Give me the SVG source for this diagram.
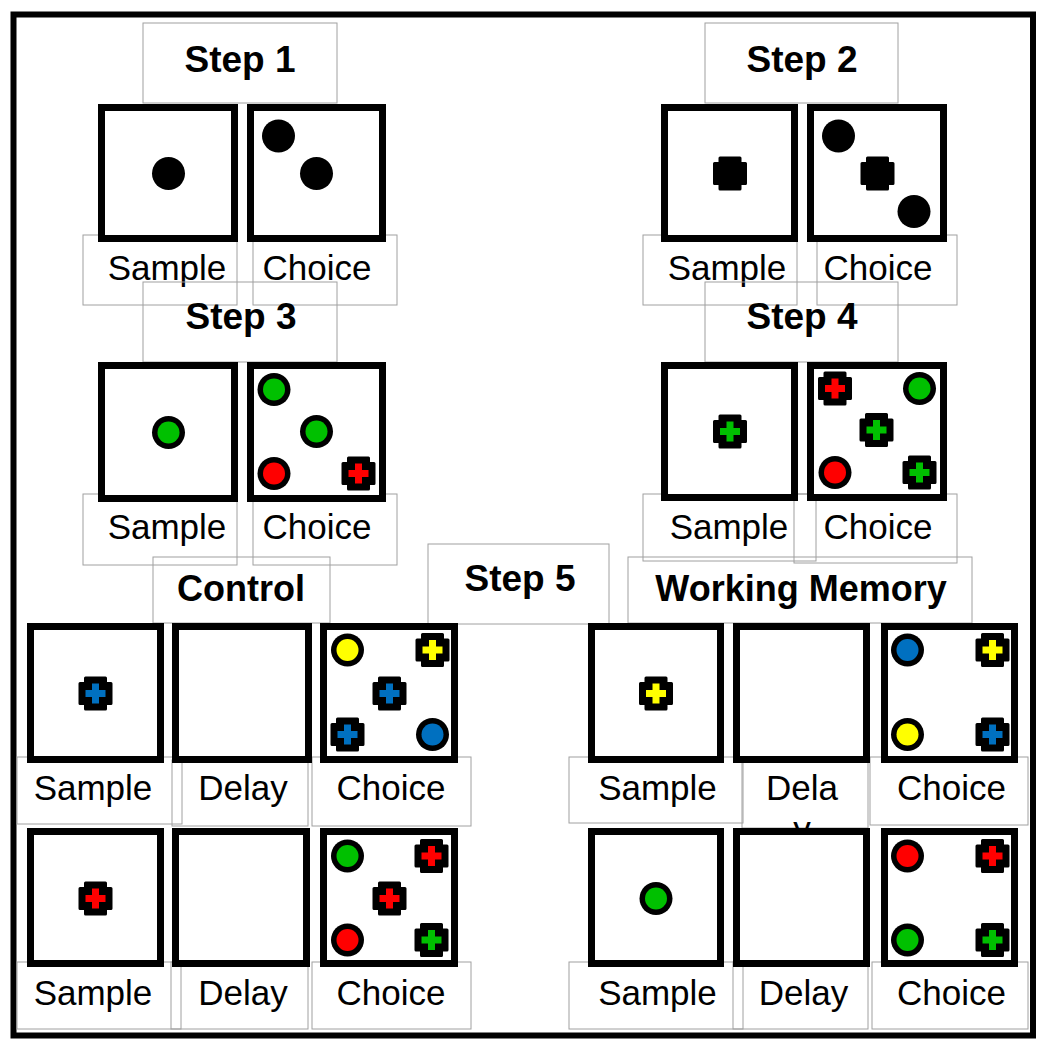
<svg xmlns="http://www.w3.org/2000/svg" width="1044" height="1050" viewBox="0 0 1044 1050">
<style>
.lb{fill:none;stroke:#a0a0a0;stroke-width:1}
.sq{fill:#fff;stroke:#000;stroke-width:7}
.tt{font-family:"Liberation Sans",Arial,sans-serif;font-weight:bold;font-size:37px;text-anchor:middle;fill:#000}
.t5{font-family:"Liberation Sans",Arial,sans-serif;font-weight:bold;font-size:36px;text-anchor:middle;fill:#000}
.tl{font-family:"Liberation Sans",Arial,sans-serif;font-size:35px;text-anchor:middle;fill:#000}
</style>
<defs>
<g id="cs"><circle r="16.5" fill="#000"/><circle r="11" fill="currentColor"/></g>
<g id="xs"><path d="M-10,-15.5H10V-10H15.5V10H10V15.5H-10V10H-15.5V-10H-10Z" fill="#000" stroke="#000" stroke-width="3" stroke-linejoin="round"/><path d="M-3.5,-10H3.5V-3.5H10V3.5H3.5V10H-3.5V3.5H-10V-3.5H-3.5Z" fill="currentColor"/></g>
</defs>
<rect width="1044" height="1050" fill="#fff"/>
<rect x="13.5" y="14.5" width="1019.5" height="1021" fill="none" stroke="#000" stroke-width="6"/>
<g id="connectors"/>

<g id="step1">
<rect class="lb" x="143" y="23" width="194" height="80"/>
<text class="tt" x="240" y="72">Step 1</text>
<rect class="lb" x="83" y="235" width="154" height="70"/>
<rect class="lb" x="253" y="235" width="144" height="70"/>
<text class="tl" x="167" y="280">Sample</text>
<text class="tl" x="317" y="280">Choice</text>
<rect class="sq" x="101.5" y="107.5" width="133" height="131"/>
<rect class="sq" x="250.5" y="107.5" width="132" height="131"/>
<use href="#cs" x="168.5" y="173.5" color="#000"/>
<use href="#cs" x="278.5" y="136" color="#000"/>
<use href="#cs" x="316.5" y="173.5" color="#000"/>
</g>

<g id="step2">
<rect class="lb" x="705" y="23" width="193" height="80"/>
<text class="tt" x="802" y="72">Step 2</text>
<rect class="lb" x="643" y="235" width="154" height="70"/>
<rect class="lb" x="817" y="235" width="140" height="70"/>
<text class="tl" x="727" y="280">Sample</text>
<text class="tl" x="878" y="280">Choice</text>
<rect class="sq" x="664.5" y="107.5" width="130" height="131"/>
<rect class="sq" x="810.5" y="107.5" width="133" height="131"/>
<use href="#xs" x="730" y="173.5" color="#000"/>
<use href="#cs" x="838.5" y="136" color="#000"/>
<use href="#xs" x="877.5" y="173.5" color="#000"/>
<use href="#cs" x="914" y="211.5" color="#000"/>
</g>

<g id="step3">
<rect class="lb" x="143" y="282" width="194" height="80"/>
<text class="tt" x="241" y="329">Step 3</text>
<rect class="lb" x="83" y="494" width="154" height="71"/>
<rect class="lb" x="253" y="494" width="144" height="71"/>
<text class="tl" x="167" y="539">Sample</text>
<text class="tl" x="317" y="539">Choice</text>
<rect class="sq" x="101.5" y="365.5" width="133" height="133"/>
<rect class="sq" x="250.5" y="365.5" width="132" height="133"/>
<use href="#cs" x="168.5" y="432.5" color="#00c000"/>
<use href="#cs" x="274" y="389.5" color="#00c000"/>
<use href="#cs" x="316.5" y="431.5" color="#00c000"/>
<use href="#cs" x="274" y="473.5" color="#ff0000"/>
<use href="#xs" x="358.5" y="473.5" color="#ff0000"/>
</g>

<g id="step4">
<rect class="lb" x="705" y="282" width="193" height="80"/>
<text class="tt" x="802" y="329">Step 4</text>
<rect class="lb" x="643" y="494" width="173" height="67"/>
<rect class="lb" x="794" y="494" width="163" height="69"/>
<text class="tl" x="729" y="539">Sample</text>
<text class="tl" x="878" y="539">Choice</text>
<rect class="sq" x="664.5" y="365.5" width="130" height="132"/>
<rect class="sq" x="810.5" y="365.5" width="133" height="132"/>
<use href="#xs" x="730" y="431.5" color="#00c000"/>
<use href="#xs" x="835" y="388.5" color="#ff0000"/>
<use href="#cs" x="919.5" y="388.5" color="#00c000"/>
<use href="#xs" x="876.5" y="430" color="#00c000"/>
<use href="#cs" x="835" y="472.5" color="#ff0000"/>
<use href="#xs" x="919.5" y="472.5" color="#00c000"/>
</g>

<g id="step5">
<rect class="lb" x="428" y="544" width="181" height="80"/>
<text class="tt" x="520" y="591">Step 5</text>
</g>

<g id="control">
<rect class="lb" x="153" y="557" width="177" height="66"/>
<text class="t5" x="241" y="601">Control</text>
<rect class="lb" x="17" y="757" width="165" height="67"/>
<rect class="lb" x="172" y="760" width="136" height="66"/>
<rect class="lb" x="312" y="757" width="159" height="69"/>
<text class="tl" x="93" y="800">Sample</text>
<text class="tl" x="243" y="800">Delay</text>
<text class="tl" x="391" y="800">Choice</text>
<rect class="sq" x="30.5" y="626.5" width="130" height="133"/>
<rect class="sq" x="175.5" y="626.5" width="133" height="133"/>
<rect class="sq" x="323.5" y="626.5" width="131" height="133"/>
<use href="#xs" x="95.5" y="693.5" color="#0070c0"/>
<use href="#cs" x="347.5" y="650" color="#ffff00"/>
<use href="#xs" x="432.5" y="650" color="#ffff00"/>
<use href="#xs" x="389.5" y="693.5" color="#0070c0"/>
<use href="#xs" x="347.5" y="734.5" color="#0070c0"/>
<use href="#cs" x="432.5" y="734.5" color="#0070c0"/>
<rect class="lb" x="17" y="962" width="164" height="67"/>
<rect class="lb" x="171" y="962" width="137" height="67"/>
<rect class="lb" x="312" y="962" width="159" height="67"/>
<text class="tl" x="93" y="1005">Sample</text>
<text class="tl" x="243" y="1005">Delay</text>
<text class="tl" x="391" y="1005">Choice</text>
<rect class="sq" x="30.5" y="831.5" width="130" height="132"/>
<rect class="sq" x="175.5" y="831.5" width="131" height="132"/>
<rect class="sq" x="323.5" y="831.5" width="131" height="132"/>
<use href="#xs" x="95.5" y="898.5" color="#ff0000"/>
<use href="#cs" x="347.5" y="856" color="#00c000"/>
<use href="#xs" x="431.5" y="856" color="#ff0000"/>
<use href="#xs" x="389.5" y="898.5" color="#ff0000"/>
<use href="#cs" x="347.5" y="940" color="#ff0000"/>
<use href="#xs" x="431.5" y="940" color="#00c000"/>
</g>

<g id="working-memory">
<rect class="lb" x="628" y="557" width="344" height="66"/>
<text class="t5" x="801" y="601">Working Memory</text>
<rect class="lb" x="569" y="757" width="174" height="66"/>
<rect class="lb" x="742" y="762" width="126" height="66"/>
<rect class="lb" x="870" y="757" width="158" height="68"/>
<text class="tl" x="657.5" y="800">Sample</text>
<text class="tl" x="802" y="800">Dela</text>
<text class="tl" x="802" y="841">y</text>
<text class="tl" x="951.5" y="800">Choice</text>
<rect class="sq" x="591.5" y="626.5" width="129" height="133"/>
<rect class="sq" x="736.5" y="626.5" width="130" height="133"/>
<rect class="sq" x="884.5" y="626.5" width="130" height="133"/>
<use href="#xs" x="656" y="693.5" color="#ffff00"/>
<use href="#cs" x="907.5" y="650" color="#0070c0"/>
<use href="#xs" x="992.5" y="650" color="#ffff00"/>
<use href="#cs" x="907.5" y="734.5" color="#ffff00"/>
<use href="#xs" x="992.5" y="734.5" color="#0070c0"/>
<rect class="lb" x="569" y="962" width="174" height="67"/>
<rect class="lb" x="733" y="962" width="135" height="67"/>
<rect class="lb" x="872" y="962" width="156" height="67"/>
<text class="tl" x="657.5" y="1005">Sample</text>
<text class="tl" x="803.5" y="1005">Delay</text>
<text class="tl" x="951.5" y="1005">Choice</text>
<rect class="sq" x="591.5" y="831.5" width="129" height="132"/>
<rect class="sq" x="736.5" y="831.5" width="130" height="132"/>
<rect class="sq" x="884.5" y="831.5" width="130" height="132"/>
<use href="#cs" x="656" y="898.5" color="#00c000"/>
<use href="#cs" x="907.5" y="856" color="#ff0000"/>
<use href="#xs" x="992.5" y="856" color="#ff0000"/>
<use href="#cs" x="907.5" y="940" color="#00c000"/>
<use href="#xs" x="992.5" y="940" color="#00c000"/>
</g>
</svg>
